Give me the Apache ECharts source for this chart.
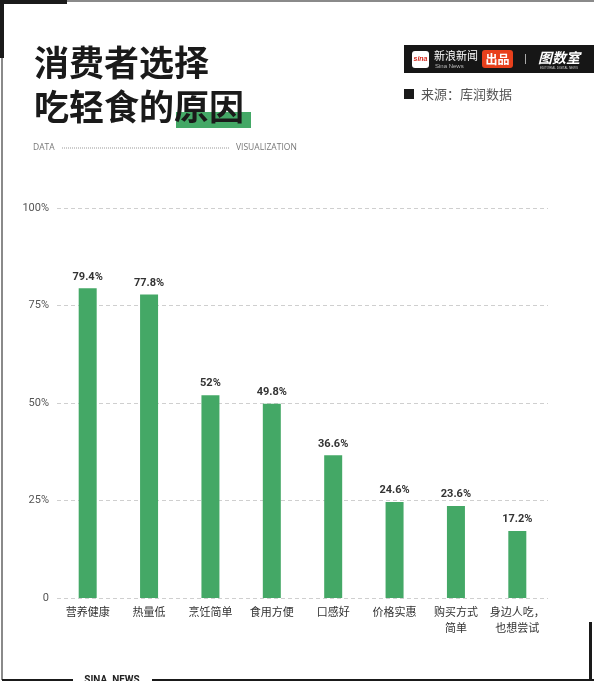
<!DOCTYPE html>
<html><head><meta charset="utf-8">
<script src="https://cdn.jsdelivr.net/npm/echarts@6/dist/echarts.min.js"></script>
<style>html,body{margin:0;padding:0;background:#fff}#c{width:594px;height:681px}</style>
</head><body><div id="c"></div>
<script>
const categories = ['营养健康','热量低','烹饪简单','食用方便','口感好','价格实惠','购买方式\n简单','身边人吃，\n也想尝试'];
const values = [79.4, 77.8, 52, 49.8, 36.6, 24.6, 23.6, 17.2];
const yTicks = [0, 25, 50, 75, 100];
const titleLines = ['消费者选择', '吃轻食的原因'];
const sourceText = '来源：库润数据';

const GREEN = '#44a866';
const FONT = '"Noto Sans CJK SC", "Noto Sans", sans-serif';
const chart = echarts.init(document.getElementById('c'));
chart.setOption({
  animation: false,
  backgroundColor: '#fff',
  grid: { left: 57, right: 46, top: 208, bottom: 83 },
  xAxis: {
    type: 'category', data: categories,
    axisLine: { show: false }, axisTick: { show: false },
    axisLabel: { color: '#333', fontSize: 11, fontFamily: FONT, margin: 6, lineHeight: 16, interval: 0 }
  },
  yAxis: {
    type: 'value', min: 0, max: 100, interval: 25,
    axisLine: { show: false }, axisTick: { show: false },
    axisLabel: { color: '#555', fontSize: 11, fontFamily: 'Roboto, sans-serif', margin: 8,
      formatter: v => yTicks.includes(v) ? (v === 0 ? '0' : v + '%') : '' },
    splitLine: { lineStyle: { color: '#cfcfcf', type: [4, 3], width: 1 } }
  },
  series: [{
    type: 'bar', data: values, barWidth: 18,
    itemStyle: { color: GREEN },
    label: { show: true, position: 'top', distance: 6, color: '#333', fontSize: 11, fontWeight: 'bold',
      fontFamily: 'Roboto, sans-serif', formatter: p => p.value + '%' }
  }],
  graphic: [
    // frame
    { type: 'rect', shape: { x: 67, y: 0, width: 527, height: 2 }, style: { fill: '#8a8a8a' } },
    { type: 'rect', shape: { x: 0, y: 0, width: 67, height: 4 }, style: { fill: '#1a1a1a' } },
    { type: 'rect', shape: { x: 0, y: 0, width: 4, height: 58 }, style: { fill: '#1a1a1a' } },
    { type: 'rect', shape: { x: 1, y: 58, width: 2, height: 622 }, style: { fill: '#8a8a8a' } },
    { type: 'rect', shape: { x: 2, y: 679, width: 71, height: 2 }, style: { fill: '#1a1a1a' } },
    { type: 'rect', shape: { x: 152, y: 679, width: 442, height: 2 }, style: { fill: '#1a1a1a' } },
    { type: 'text', style: { x: 112, y: 685, text: 'SINA  NEWS', fill: '#222', font: 'bold 10px Roboto, sans-serif', align: 'center', verticalAlign: 'bottom' } },
    { type: 'rect', shape: { x: 589, y: 622, width: 3, height: 59 }, style: { fill: '#1a1a1a' } },
    // title
    { type: 'rect', shape: { x: 176, y: 112, width: 75, height: 16 }, style: { fill: GREEN } },
    { type: 'text', style: { x: 34, y: 63, text: titleLines[0], fill: '#1a1a1a', font: 'bold 35px ' + FONT, verticalAlign: 'middle' } },
    { type: 'text', style: { x: 34, y: 107, text: titleLines[1], fill: '#1a1a1a', font: 'bold 35px ' + FONT, verticalAlign: 'middle' } },
    // DATA ... VISUALIZATION
    { type: 'text', style: { x: 33, y: 148, text: 'DATA', fill: '#777', font: '8.5px "Open Sans", sans-serif', verticalAlign: 'middle' } },
    { type: 'line', shape: { x1: 62, y1: 148, x2: 230, y2: 148 }, style: { stroke: '#999', lineWidth: 1, lineDash: [1, 1] } },
    { type: 'text', style: { x: 236, y: 148, text: 'VISUALIZATION', fill: '#777', font: '8.5px "Open Sans", sans-serif', verticalAlign: 'middle' } },
    // logo bar
    { type: 'rect', shape: { x: 404, y: 45, width: 190, height: 28 }, style: { fill: '#161616' } },
    { type: 'rect', shape: { x: 412, y: 51, width: 17, height: 17, r: 3 }, style: { fill: '#fff' } },
    { type: 'text', style: { x: 420.5, y: 59.5, text: 'sina', fill: '#d42a1e', font: 'italic bold 7px sans-serif', align: 'center', verticalAlign: 'middle' } },
    { type: 'text', style: { x: 434, y: 56, text: '新浪新闻', fill: '#fff', font: '11px ' + FONT, verticalAlign: 'middle' } },
    { type: 'text', style: { x: 435, y: 66, text: 'Sina News', fill: '#bbb', font: '6px sans-serif', verticalAlign: 'middle' } },
    { type: 'rect', shape: { x: 482, y: 50, width: 31, height: 18, r: 3 }, style: { fill: '#e8401c' } },
    { type: 'text', style: { x: 497.5, y: 59, text: '出品', fill: '#fff', font: 'bold 12px ' + FONT, align: 'center', verticalAlign: 'middle' } },
    { type: 'rect', shape: { x: 525, y: 54, width: 1, height: 10 }, style: { fill: '#aaa' } },
    { type: 'text', style: { x: 559, y: 58, text: '图数室', fill: '#fff', font: 'italic bold 14px ' + FONT, align: 'center', verticalAlign: 'middle' } },
    { type: 'text', style: { x: 559, y: 68, text: 'EDITORIAL DIGITAL NEWS', fill: '#ccc', font: '3px sans-serif', align: 'center', verticalAlign: 'middle' } },
    // source
    { type: 'rect', shape: { x: 404, y: 89, width: 10, height: 10 }, style: { fill: '#1a1a1a' } },
    { type: 'text', style: { x: 421, y: 94.5, text: sourceText, fill: '#555', font: '13px ' + FONT, verticalAlign: 'middle' } }
  ]
});
</script></body></html>
